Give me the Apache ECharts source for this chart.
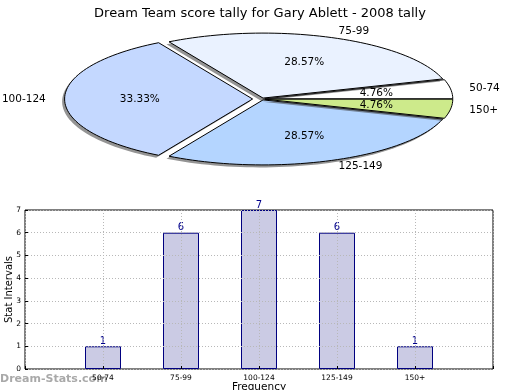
<!DOCTYPE html>
<html><head><meta charset="utf-8">
<script src="https://cdn.jsdelivr.net/npm/echarts@6/dist/echarts.min.js"></script>
<style>html,body{margin:0;padding:0;background:#fff}#c{width:520px;height:390px}</style>
</head><body><div id="c"></div>
<script>
// ---- data ----
const pieLabels = ['50-74', '75-99', '100-124', '125-149', '150+'];
const pieValues = [1, 6, 7, 6, 1];
const barCategories = ['50-74', '75-99', '100-124', '125-149', '150+'];
const barValues = [1, 6, 7, 6, 1];
const yTicks = [0, 1, 2, 3, 4, 5, 6, 7];
const titleText = 'Dream Team score tally for Gary Ablett - 2008 tally';

// ---- styles / layout ----
const pieColors = ['#ffffff', '#eaf2ff', '#c4d8ff', '#b4d5ff', '#cdea8b'];
const pieExplode = [0.015, 0.015, 0.05, 0.015, 0.015];
const PIE = { cx: 262, cy: 99, rx: 188, ry: 65, shadow: 2.5 };
const FONT = 'DejaVu Sans';

const total = pieValues.reduce((a, b) => a + b, 0);

function renderPie(params, api) {
  const i = params.dataIndex;
  const v = api.value(0);
  let start = 0;
  for (let k = 0; k < i; k++) start += pieValues[k];
  const a0 = start / total * Math.PI * 2;
  const a1 = (start + v) / total * Math.PI * 2;
  const mid = (a0 + a1) / 2;
  const ex = pieExplode[i];
  const cx = PIE.cx + ex * PIE.rx * Math.cos(mid);
  const cy = PIE.cy - ex * PIE.ry * Math.sin(mid);
  const pts = [[cx, cy]];
  const steps = Math.max(8, Math.ceil((a1 - a0) / (Math.PI / 90)));
  for (let s = 0; s <= steps; s++) {
    const a = a0 + (a1 - a0) * s / steps;
    pts.push([cx + PIE.rx * Math.cos(a), cy - PIE.ry * Math.sin(a)]);
  }
  const spts = pts.map(p => [p[0] - PIE.shadow, p[1] + PIE.shadow]);
  const cosm = Math.cos(mid), sinm = Math.sin(mid);
  return {
    type: 'group',
    children: [
      { type: 'polygon', z2: i * 2, shape: { points: spts },
        style: { fill: 'rgba(60,60,60,0.55)', stroke: null } },
      { type: 'polygon', z2: i * 2 + 1, shape: { points: pts },
        style: { fill: pieColors[i], stroke: '#000', lineWidth: 1 } },
      { type: 'text', z2: 100,
        style: { text: pieLabels[i], x: cx + 1.1 * PIE.rx * cosm, y: cy - 1.1 * PIE.ry * sinm,
          align: cosm > 0.001 ? 'left' : (cosm < -0.001 ? 'right' : 'center'), verticalAlign: 'middle',
          fontFamily: FONT, fontSize: 10.5, fill: '#000' } },
      { type: 'text', z2: 101,
        style: { text: (v / total * 100).toFixed(2) + '%', x: cx + 0.6 * PIE.rx * cosm, y: cy - 0.6 * PIE.ry * sinm,
          align: 'center', verticalAlign: 'middle', fontFamily: FONT, fontSize: 10.5, fill: '#000' } }
    ]
  };
}

const xData = [''].concat(barCategories, ['']);
const barData = ['-'].concat(barValues, ['-']);

const chart = echarts.init(document.getElementById('c'), null, { renderer: 'canvas' });
chart.setOption({
  animation: false,
  backgroundColor: '#fff',
  textStyle: { fontFamily: FONT },
  title: { text: titleText, left: 'center', top: 2,
    textStyle: { fontFamily: FONT, fontSize: 13, fontWeight: 'normal', color: '#000' } },
  graphic: [{ type: 'text', left: 0, top: 374, z: 1,
    style: { text: 'Dream-Stats.com', fontFamily: FONT, fontSize: 11, fontWeight: 'bold', fill: 'rgba(140,140,140,0.75)' } }],
  grid: { left: 25, right: 27, top: 210, bottom: 21, containLabel: false, outerBoundsMode: 'none',
    show: true, borderColor: '#000', borderWidth: 1, backgroundColor: 'transparent' },
  xAxis: {
    type: 'category', data: xData, boundaryGap: false, z: 5,
    name: 'Frequency', nameLocation: 'middle', nameGap: 13, nameMoveOverlap: false,
    nameTextStyle: { fontFamily: FONT, fontSize: 10.5, color: '#000' },
    axisLine: { show: false },
    axisTick: { show: true, inside: true, length: 3, alignWithLabel: true, lineStyle: { color: '#000' } },
    axisLabel: { interval: 0, fontFamily: FONT, fontSize: 7.5, color: '#000', margin: 5 },
    splitLine: { show: true, lineStyle: { color: '#b8b8b8', type: [1, 2], width: 1 } }
  },
  yAxis: {
    type: 'value', min: yTicks[0], max: yTicks[yTicks.length - 1], interval: 1, z: 5,
    name: 'Stat Intervals', nameLocation: 'middle', nameGap: 11, nameMoveOverlap: false,
    nameTextStyle: { fontFamily: FONT, fontSize: 10, color: '#000' },
    axisLine: { show: false },
    axisTick: { show: true, inside: true, length: 3, lineStyle: { color: '#000' } },
    axisLabel: { fontFamily: FONT, fontSize: 7.5, color: '#000', margin: 4 },
    splitLine: { show: true, lineStyle: { color: '#b8b8b8', type: [1, 2], width: 1 } }
  },
  series: [
    { type: 'custom', coordinateSystem: 'none', renderItem: renderPie, silent: true,
      data: pieValues.map(v => [v]), z: 3 },
    { type: 'bar', data: barData, barWidth: 36, z: 2,
      itemStyle: { color: '#cbcbe4', borderColor: '#000080', borderWidth: 1 },
      label: { show: true, position: 'top', distance: 0, color: '#00008b', fontFamily: FONT, fontSize: 10 } }
  ]
});
</script></body></html>
